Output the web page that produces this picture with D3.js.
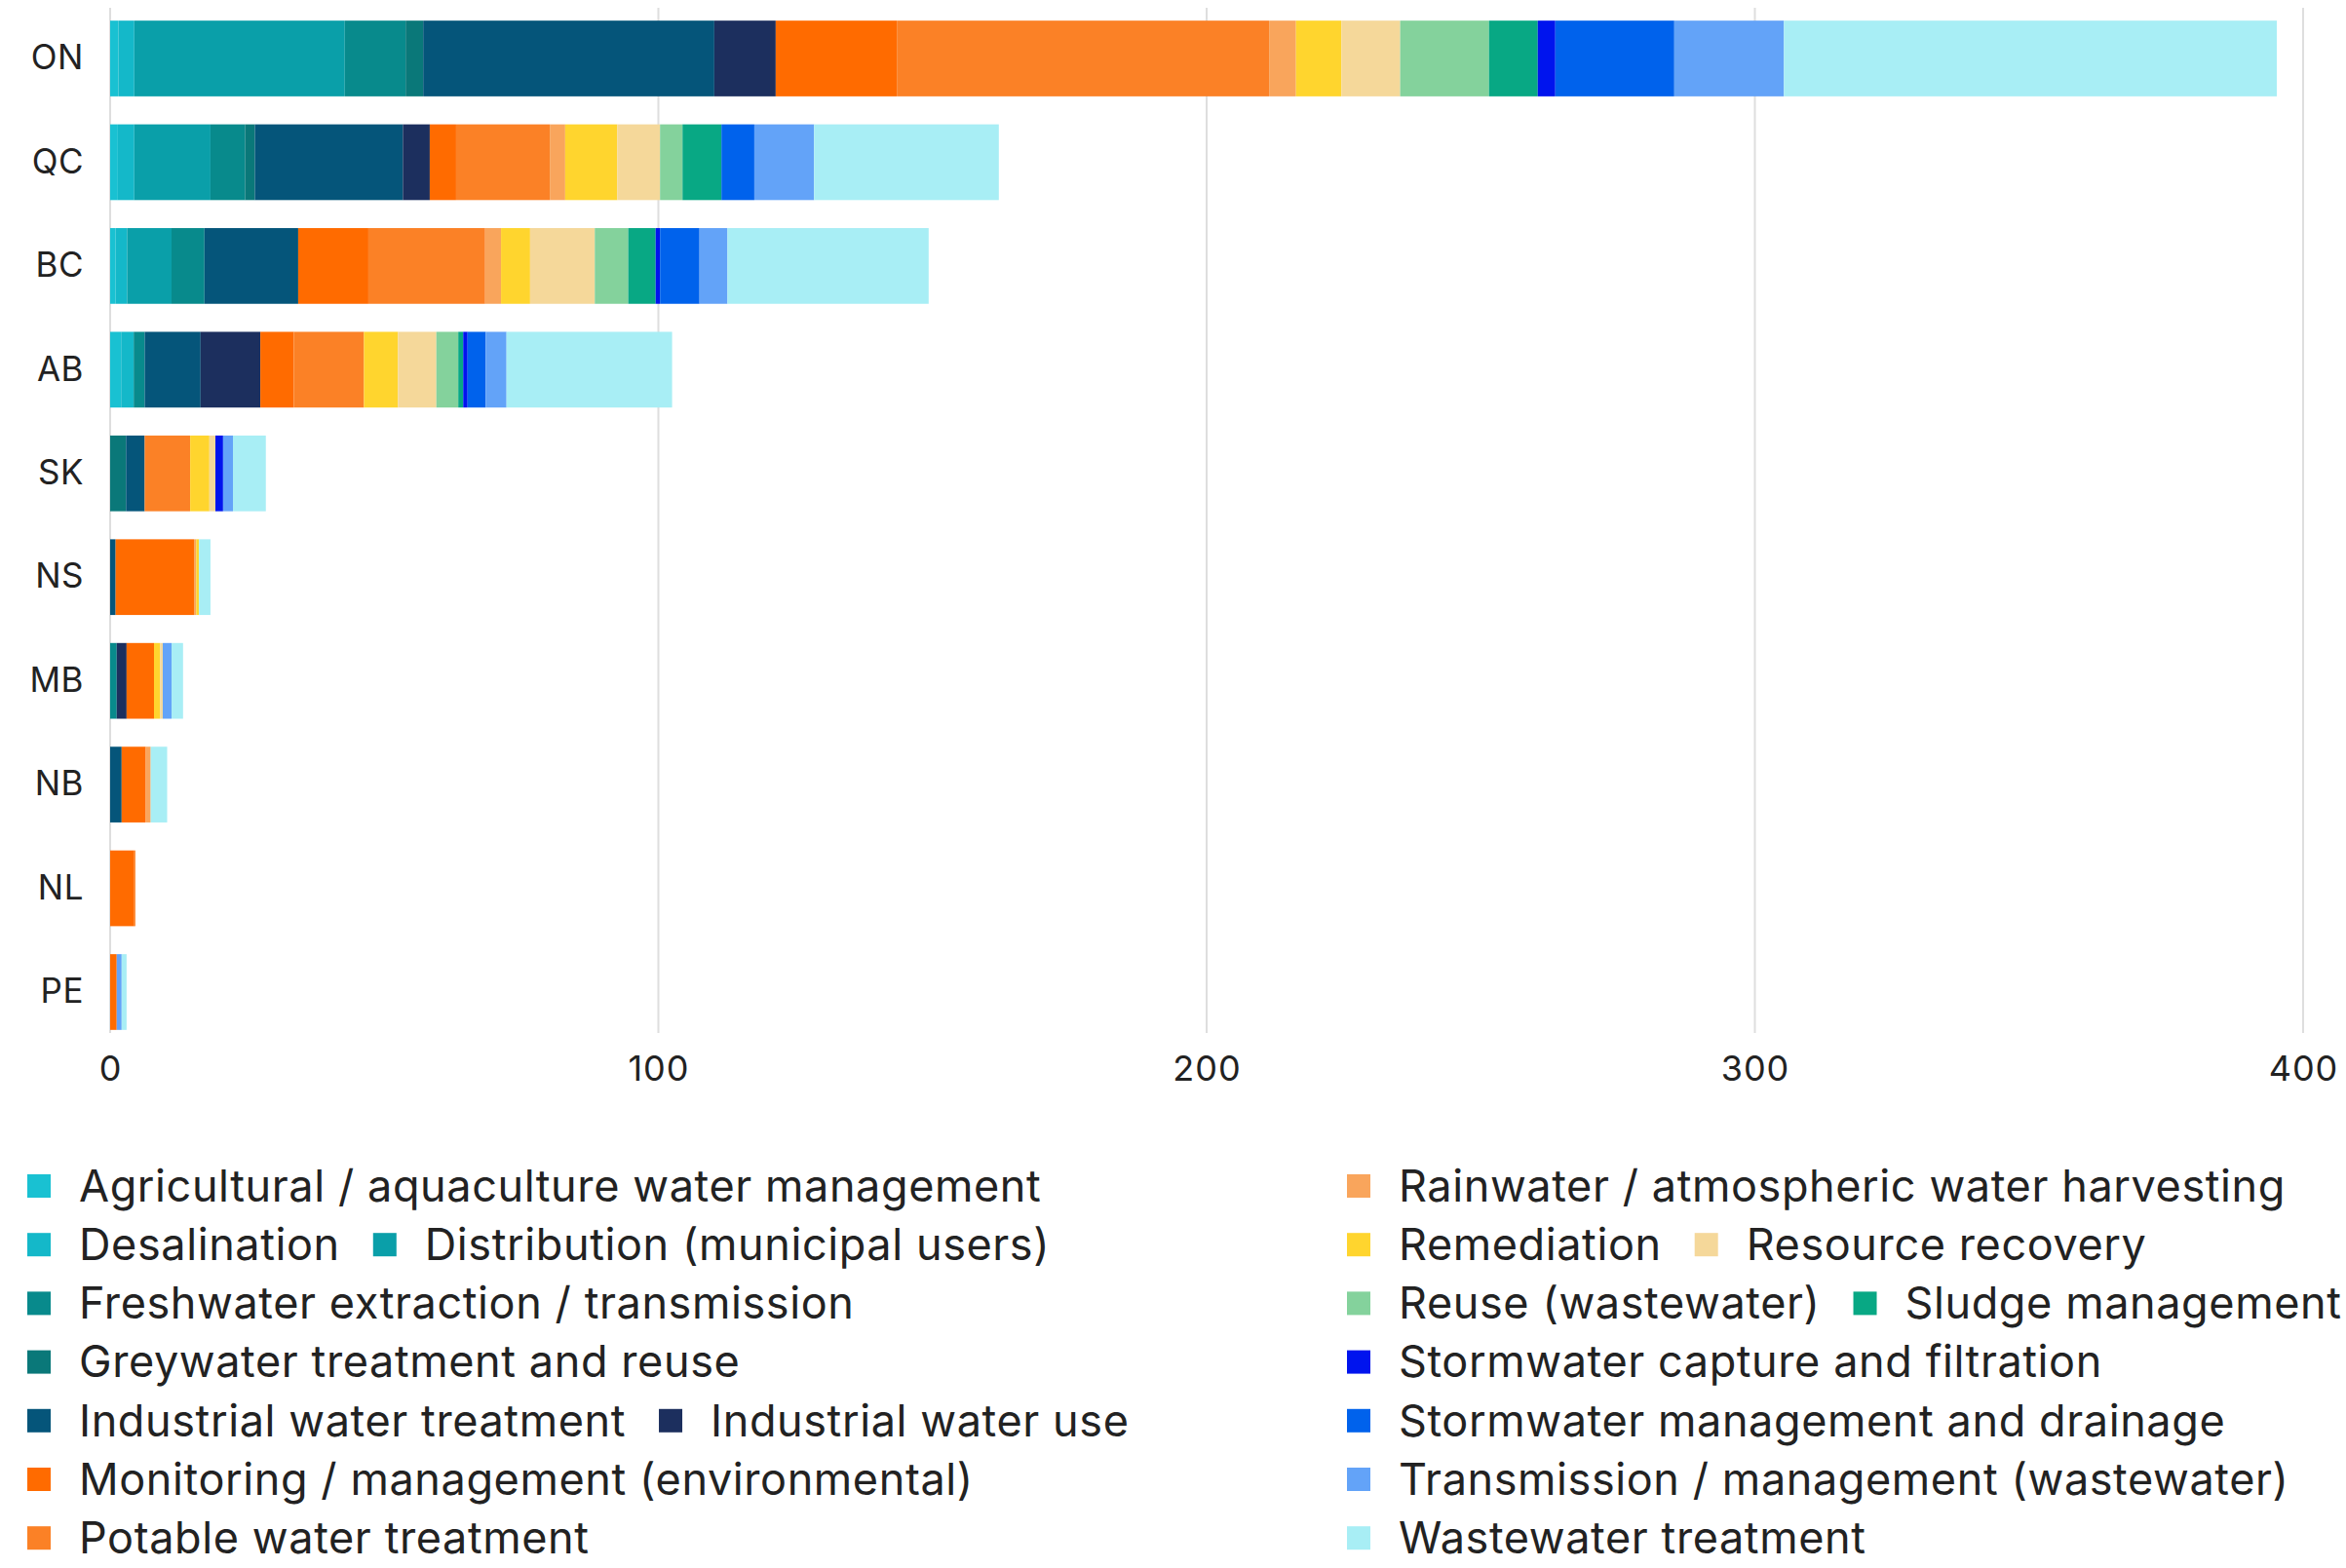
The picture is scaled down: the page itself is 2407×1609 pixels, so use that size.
<!DOCTYPE html>
<html>
<head>
<meta charset="utf-8">
<script src="https://cdn.jsdelivr.net/npm/d3@7"></script>
<style>
  html, body { margin: 0; padding: 0; background: #ffffff; }
  svg { display: block; font-family: Inter, "Noto Sans", sans-serif; }
</style>
</head>
<body>
<svg id="chart" width="2407" height="1609"></svg>
<script>
// Provinces, top to bottom
const provinces = ["ON", "QC", "BC", "AB", "SK", "NS", "MB", "NB", "NL", "PE"];

// Technology categories (stack order, left to right)
const seriesNames = [
  "Agricultural / aquaculture water management",
  "Desalination",
  "Distribution (municipal users)",
  "Freshwater extraction / transmission",
  "Greywater treatment and reuse",
  "Industrial water treatment",
  "Industrial water use",
  "Monitoring / management (environmental)",
  "Potable water treatment",
  "Rainwater / atmospheric water harvesting",
  "Remediation",
  "Resource recovery",
  "Reuse (wastewater)",
  "Sludge management",
  "Stormwater capture and filtration",
  "Stormwater management and drainage",
  "Transmission / management (wastewater)",
  "Wastewater treatment"
];

const seriesColors = [
  "#19c1d2", "#14b8c9", "#0a9fa9", "#088a8c", "#0a7879", "#05557a",
  "#1c2f5e", "#ff6b00", "#fb8126", "#f9a55c", "#ffd52e", "#f5d89a",
  "#84d29c", "#08a884", "#0014ee", "#0062ec", "#63a3f8", "#a8eef5"
];

// Values per category, one per province (ON, QC, BC, AB, SK, NS, MB, NB, NL, PE)
const agricultural  = [1.5, 1.4, 1.0, 2.0, 0, 0, 0, 0, 0, 0];
const desalination  = [2.9, 3.0, 2.1, 2.3, 0, 0, 0, 0, 0, 0];
const distribution  = [38.4, 13.9, 8.1, 0, 0, 0, 0, 0, 0, 0];
const freshwater    = [11.1, 6.3, 6.0, 2.0, 0, 0, 1.2, 0, 0, 0];
const greywater     = [3.2, 1.8, 0, 0, 2.9, 0, 0, 0, 0, 0];
const indTreatment  = [53.1, 27.0, 17.1, 10.2, 3.4, 1.0, 0, 2.1, 0, 0];
const indUse        = [11.2, 4.9, 0, 10.9, 0, 0, 1.8, 0, 0, 0];
const monitoring    = [22.1, 4.8, 12.8, 6.1, 0, 14.3, 5.0, 4.4, 4.4, 1.2];
const potable       = [67.9, 17.1, 21.3, 12.8, 8.3, 0, 0, 0, 0.2, 0];
const rainwater     = [4.9, 2.8, 2.9, 0, 0, 0.4, 0, 0.9, 0, 0];
const remediation   = [8.3, 9.5, 5.3, 6.2, 3.5, 0.5, 1.1, 0, 0, 0];
const resource      = [10.7, 7.8, 11.8, 7.0, 1.1, 0, 0.5, 0, 0, 0];
const reuse         = [16.2, 4.1, 6.1, 4.0, 0, 0, 0, 0, 0, 0];
const sludge        = [8.9, 7.1, 5.0, 0.9, 0, 0, 0, 0, 0, 0];
const stormCapture  = [3.2, 0, 0.8, 0.8, 1.4, 0, 0, 0, 0, 0];
const stormDrainage = [21.7, 6.0, 7.2, 3.3, 0, 0, 0, 0, 0, 0];
const transmission  = [20.0, 10.9, 5.1, 3.8, 1.8, 0, 1.6, 0, 0, 0.9];
const wastewater    = [89.9, 33.7, 36.7, 30.2, 6.0, 2.1, 2.1, 3.0, 0, 0.9];

const xTicks = [0, 100, 200, 300, 400];

// Legend rows: two columns, each a list of rows of series indices
const legendLeftRows  = [[0], [1, 2], [3], [4], [5, 6], [7], [8]];
const legendRightRows = [[9], [10, 11], [12, 13], [14], [15], [16], [17]];

const seriesValues = [
  agricultural, desalination, distribution, freshwater, greywater, indTreatment,
  indUse, monitoring, potable, rainwater, remediation, resource, reuse, sludge,
  stormCapture, stormDrainage, transmission, wastewater
];

// Build one row per province for d3.stack
const table = provinces.map((p, i) => {
  const row = { province: p };
  seriesNames.forEach((s, k) => { row[s] = seriesValues[k][i]; });
  return row;
});

const svg = d3.select("#chart");
const textColor = "#222222";

const x = d3.scaleLinear().domain([0, 400]).range([113, 2363]);
const y = d3.scaleBand().domain(provinces).range([6.8, 1071.2])
  .paddingInner(0.27).paddingOuter(0.135);

const color = d3.scaleOrdinal().domain(seriesNames).range(seriesColors);

// Vertical grid
svg.append("g").attr("class", "grid")
  .selectAll("line").data(xTicks).join("line")
  .attr("x1", d => x(d)).attr("x2", d => x(d))
  .attr("y1", 8).attr("y2", 1060)
  .attr("stroke", "#dedede").attr("stroke-width", 2);

// Stacked bars
const stacked = d3.stack().keys(seriesNames)(table);
svg.append("g").attr("class", "bars")
  .selectAll("g").data(stacked).join("g")
  .attr("fill", d => color(d.key))
  .selectAll("rect").data(d => d).join("rect")
  .attr("x", d => x(d[0]))
  .attr("width", d => Math.max(0, x(d[1]) - x(d[0])))
  .attr("y", d => y(d.data.province))
  .attr("height", y.bandwidth());

// Province labels
const yAxis = d3.axisLeft(y).tickSize(0).tickPadding(0);
const gy = svg.append("g").attr("transform", "translate(86,0)").call(yAxis);
gy.select(".domain").remove();
gy.selectAll("text").attr("font-size", 35).attr("fill", textColor)
  .attr("letter-spacing", 0.5)
  .attr("font-family", "Inter, 'Noto Sans', sans-serif");

// Value axis labels
const xAxis = d3.axisBottom(x).tickValues(xTicks).tickSize(0).tickPadding(0);
const gx = svg.append("g").attr("transform", "translate(0,1083)").call(xAxis);
gx.select(".domain").remove();
gx.selectAll("text").attr("font-size", 36).attr("fill", textColor)
  .attr("letter-spacing", 1)
  .attr("font-family", "Inter, 'Noto Sans', sans-serif");

// Legend
const legendFont = 45;
const rowStep = 60.2;
const legendTop = 1217;
const swatch = 24;
const swatchGap = 29;
const itemGap = 34;

function drawLegendColumn(rows, x0) {
  const g = svg.append("g").attr("class", "legend");
  rows.forEach((row, r) => {
    let cx = x0;
    const cy = legendTop + r * rowStep;
    row.forEach(k => {
      g.append("rect")
        .attr("x", cx).attr("y", cy - swatch / 2)
        .attr("width", swatch).attr("height", swatch)
        .attr("fill", seriesColors[k]);
      const t = g.append("text")
        .attr("x", cx + swatch + swatchGap).attr("y", cy)
        .attr("dy", "0.35em")
        .attr("font-size", legendFont).attr("fill", textColor)
        .attr("letter-spacing", 0.6)
        .text(seriesNames[k]);
      cx += swatch + swatchGap + t.node().getComputedTextLength() + itemGap;
    });
  });
}
drawLegendColumn(legendLeftRows, 28);
drawLegendColumn(legendRightRows, 1382);
</script>
</body>
</html>
